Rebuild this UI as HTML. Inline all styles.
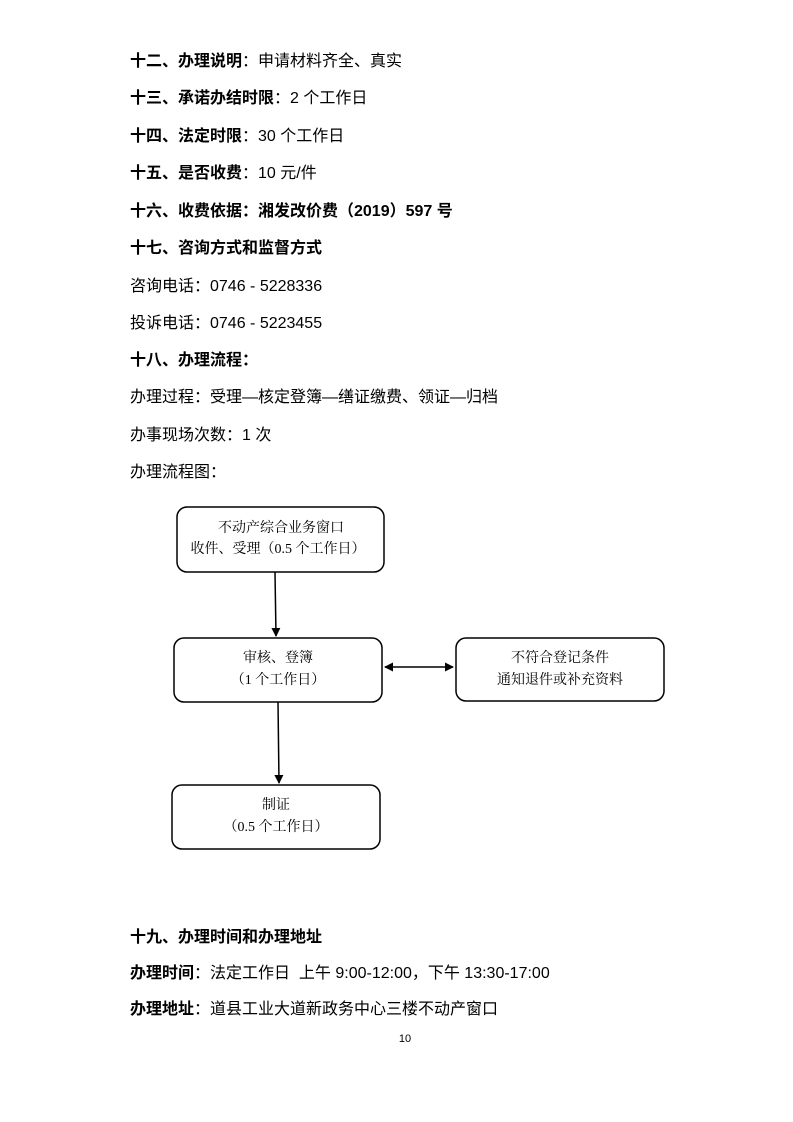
<!DOCTYPE html>
<html><head><meta charset="utf-8"><style>
html,body{margin:0;padding:0;background:#fff;}
body{width:793px;height:1122px;position:relative;overflow:hidden;font-family:"Liberation Sans","Noto Sans CJK SC",sans-serif;color:#000;}
.l{position:absolute;left:130px;font-size:16px;line-height:20px;white-space:nowrap;}
b{font-weight:bold;}
svg{position:absolute;left:0;top:0;}
svg text{font-family:"Liberation Serif","Noto Serif CJK SC",serif;font-size:14px;}
</style></head><body>
<div class="l" style="top:52px"><b>十二、办理说明</b>：申请材料齐全、真实</div>
<div class="l" style="top:89px"><b>十三、承诺办结时限</b>：2 个工作日</div>
<div class="l" style="top:127px"><b>十四、法定时限</b>：30 个工作日</div>
<div class="l" style="top:164px"><b>十五、是否收费</b>：10 元/件</div>
<div class="l" style="top:202px"><b>十六、收费依据：湘发改价费（2019）597 号</b></div>
<div class="l" style="top:239px"><b>十七、咨询方式和监督方式</b></div>
<div class="l" style="top:277px">咨询电话：0746 - 5228336</div>
<div class="l" style="top:314px">投诉电话：0746 - 5223455</div>
<div class="l" style="top:351px"><b>十八、办理流程：</b></div>
<div class="l" style="top:388px">办理过程：受理—核定登簿—缮证缴费、领证—归档</div>
<div class="l" style="top:426px">办事现场次数：1 次</div>
<div class="l" style="top:463px">办理流程图：</div>

<svg width="793" height="1122">
<defs><marker id="a" markerWidth="9" markerHeight="9" refX="8" refY="4.5" orient="auto" markerUnits="userSpaceOnUse"><path d="M0,0 L9,4.5 L0,9 z" fill="#000"/></marker>
<marker id="b" markerWidth="9" markerHeight="9" refX="1" refY="4.5" orient="auto" markerUnits="userSpaceOnUse"><path d="M9,0 L0,4.5 L9,9 z" fill="#000"/></marker></defs>
<g fill="none" stroke="#000" stroke-width="1.5">
<rect x="177" y="507" width="207" height="65" rx="10"/>
<rect x="174" y="638" width="208" height="64" rx="10"/>
<rect x="456" y="638" width="208" height="63" rx="10"/>
<rect x="172" y="785" width="208" height="64" rx="10"/>
<line x1="275" y1="572" x2="276" y2="636" marker-end="url(#a)"/>
<line x1="278" y1="702" x2="279" y2="783" marker-end="url(#a)"/>
<line x1="385" y1="667" x2="453" y2="667" marker-start="url(#b)" marker-end="url(#a)"/>
</g>
<g text-anchor="middle">
<text x="281" y="532">不动产综合业务窗口</text>
<text x="278" y="553">收件、受理（0.5 个工作日）</text>
<text x="278" y="662">审核、登簿</text>
<text x="278" y="684">（1 个工作日）</text>
<text x="560" y="662">不符合登记条件</text>
<text x="560" y="684">通知退件或补充资料</text>
<text x="276" y="809">制证</text>
<text x="276" y="831">（0.5 个工作日）</text>
</g>
</svg>

<div class="l" style="top:928px"><b>十九、办理时间和办理地址</b></div>
<div class="l" style="top:964px"><b>办理时间</b>：法定工作日&nbsp; 上午 9:00-12:00，下午 13:30-17:00</div>
<div class="l" style="top:1000px"><b>办理地址</b>：道县工业大道新政务中心三楼不动产窗口</div>
<div style="position:absolute;left:0;width:810px;text-align:center;top:1033px;font-size:11px;">10</div>
</body></html>
